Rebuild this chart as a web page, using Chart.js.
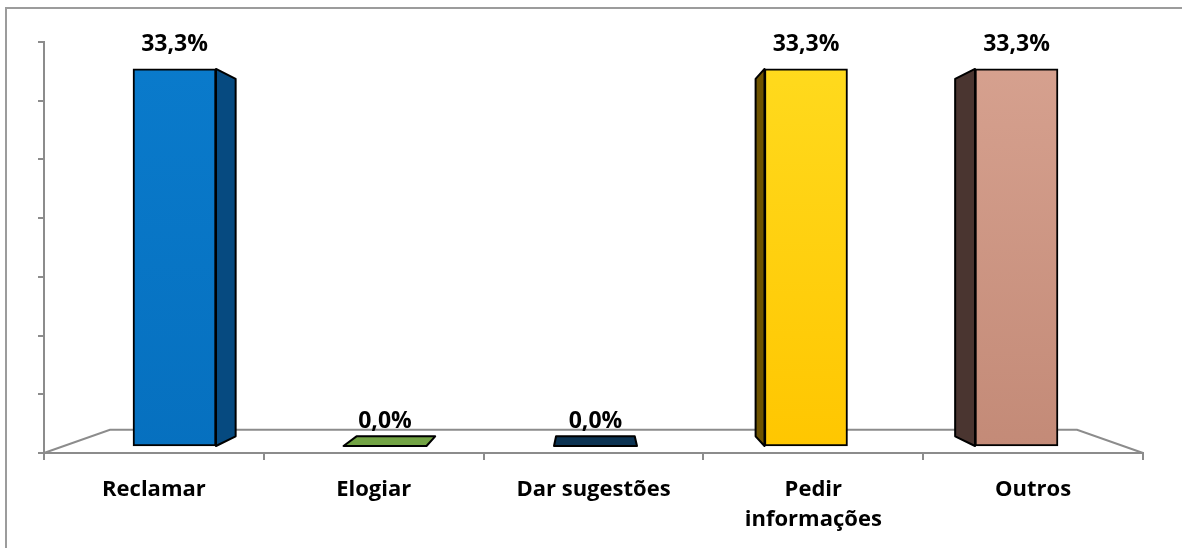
<!DOCTYPE html>
<html lang="pt-BR">
<head>
<meta charset="utf-8">
<title>Motivo do contato</title>
<script src="https://cdn.jsdelivr.net/npm/chart.js@4.4.1/dist/chart.umd.min.js"></script>
<style>
  html, body { margin: 0; padding: 0; background: #fff; overflow: hidden; }
  #moldura { position: absolute; left: 5px; top: 7px; width: 1240px; height: 620px; border: 2px solid #9c9c9c; }
  #wrap { position: absolute; left: 0; top: 0; width: 1182px; height: 548px; }
</style>
</head>
<body>
<div id="moldura"></div>
<div id="wrap"><canvas id="grafico" width="1182" height="548"></canvas></div>
<script>
// Dados
const categorias = ['Reclamar', 'Elogiar', 'Dar sugestões', ['Pedir', 'informações'], 'Outros'];
const valores    = [33.3, 0.0, 0.0, 33.3, 33.3];
const indices    = [0, 1, 2, 3, 4];

// Cores: frente (topo -> base) e lateral
const corFrente = [
  ['#0a7bcc', '#0670bf'],
  ['#72a344', '#6b9b3c'],
  ['#0c3352', '#0a2f4d'],
  ['#ffdb1f', '#ffc600'],
  ['#d7a290', '#c38a77']
];
const corLado = ['#064a80', '#4f7a2a', '#061f36', '#6e5300', '#4a3530'];

// Perspectiva
const FUGA_Y     = 260;
const PROF_BARRA = 0.948;
const PROF_CHAO  = 0.88;
const CINZA      = '#8c8c8c';

const fmt = v => v.toFixed(1).replace('.', ',') + '%';

const efeito3D = {
  id: 'efeito3D',
  beforeDatasetsDraw(chart) {
    const { ctx, chartArea: a } = chart;
    const vx = (a.left + a.right) / 2;
    const fundo = (x, y) => [vx + (x - vx) * PROF_CHAO, FUGA_Y + (y - FUGA_Y) * PROF_CHAO];
    const [bl, by] = fundo(a.left, a.bottom);
    const [br] = fundo(a.right, a.bottom);
    ctx.save();
    ctx.strokeStyle = CINZA; ctx.lineWidth = 2;
    ctx.beginPath();
    ctx.moveTo(a.left, a.bottom); ctx.lineTo(bl, by);
    ctx.lineTo(br, by); ctx.lineTo(a.right, a.bottom);
    ctx.stroke();
    ctx.restore();
  },
  afterDatasetsDraw(chart) {
    const { ctx, chartArea: a } = chart;
    const vx = (a.left + a.right) / 2;
    const P = (x, y) => [vx + (x - vx) * PROF_BARRA, FUGA_Y + (y - FUGA_Y) * PROF_BARRA];
    const poligono = (pts, cor) => {
      ctx.beginPath();
      ctx.moveTo(pts[0][0], pts[0][1]);
      pts.slice(1).forEach(p => ctx.lineTo(p[0], p[1]));
      ctx.closePath();
      ctx.fillStyle = cor; ctx.fill();
      ctx.strokeStyle = '#000'; ctx.lineWidth = 2; ctx.lineJoin = 'round';
      ctx.stroke();
    };
    ctx.save();
    chart.getDatasetMeta(0).data.forEach((bar, i) => {
      const { x, y, base, width } = bar.getProps(['x', 'y', 'base', 'width'], true);
      const l = x - width / 2, r = x + width / 2;
      if (base - y > 0.5) {
        const lado = x < vx ? r : l;
        poligono([[lado, y], P(lado, y), P(lado, base), [lado, base]], corLado[i]);
      }
      if (y > FUGA_Y) {
        poligono([[l, y], [r, y], P(r, y), P(l, y)], corFrente[i][0]);
      }
      ctx.fillStyle = '#000';
      ctx.font = 'bold 23px "Open Sans"';
      ctx.textAlign = 'center';
      ctx.textBaseline = 'alphabetic';
      ctx.fillText(fmt(valores[i]), x, y - 18);
    });
    ctx.restore();
  }
};

function desenhar() {
  Chart.defaults.font.family = '"Open Sans", sans-serif';
  const ctx = document.getElementById('grafico').getContext('2d');
  new Chart(ctx, {
    type: 'bar',
    data: {
      labels: categorias,
      datasets: [{
        data: indices.map(i => ({ x: i, y: valores[i] })),
        xAxisID: 'xb', yAxisID: 'yb',
        barThickness: 83,
        borderColor: '#000', borderWidth: 2, borderSkipped: false,
        backgroundColor: (c) => {
          const { chartArea } = c.chart;
          const par = corFrente[c.dataIndex] || corFrente[0];
          if (!chartArea) return par[0];
          const g = c.chart.ctx.createLinearGradient(0, chartArea.top, 0, chartArea.bottom);
          g.addColorStop(0, par[0]); g.addColorStop(1, par[1]);
          return g;
        }
      }]
    },
    options: {
      responsive: false, animation: false,
      layout: { padding: { left: 38, right: 39, top: 42, bottom: 0 } },
      plugins: { legend: { display: false }, tooltip: { enabled: false } },
      scales: {
        x: {
          type: 'category', position: 'bottom', offset: true,
          grid: { offset: true, drawOnChartArea: false, drawTicks: true, tickLength: 7, color: CINZA, lineWidth: 2 },
          border: { display: true, color: CINZA, width: 2 },
          ticks: { color: '#000', autoSkip: false, maxRotation: 0, padding: 14,
                   font: { size: 22, weight: 'bold', lineHeight: 1.4 } },
          afterFit: s => { s.height = 95; }
        },
        y: {
          type: 'linear', position: 'left', min: 0, max: 35,
          ticks: { display: false, stepSize: 5 },
          grid: { drawOnChartArea: false, drawTicks: true, tickLength: 6, color: CINZA, lineWidth: 2 },
          border: { display: true, color: CINZA, width: 2 },
          afterFit: s => { s.width = 6; }
        },
        xb: { type: 'linear', display: false, offset: false, min: -0.62, max: 4.601 },
        yb: { type: 'linear', display: false, min: -0.618, max: 35.68 }
      }
    },
    plugins: [efeito3D]
  });
}

document.addEventListener('DOMContentLoaded', () => {
  document.fonts.load('bold 22px "Open Sans"').then(desenhar, desenhar);
});
</script>
</body>
</html>
